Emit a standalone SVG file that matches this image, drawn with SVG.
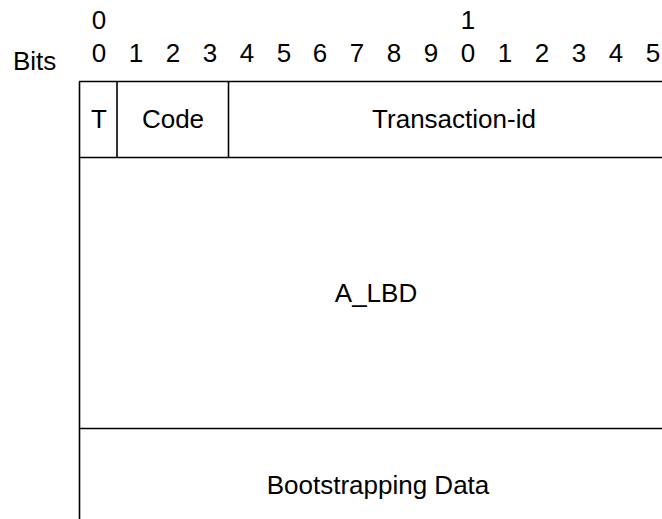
<svg xmlns="http://www.w3.org/2000/svg" width="662" height="519" viewBox="0 0 662 519">
<style>
text{font-family:"Liberation Sans",Arial,sans-serif;font-size:26px;fill:#000}
.c{text-anchor:middle}
.ln{stroke:#000;stroke-width:1.6;fill:none}
</style>
<rect width="662" height="519" fill="#fff"/>
<g id="ruler">
<text x="13" y="70">Bits</text>
<text class="c" x="99" y="29">0</text>
<text class="c" x="468" y="29">1</text>
<g class="c">
<text class="c" x="99" y="62">0</text>
<text class="c" x="136" y="62">1</text>
<text class="c" x="173" y="62">2</text>
<text class="c" x="210" y="62">3</text>
<text class="c" x="247" y="62">4</text>
<text class="c" x="284" y="62">5</text>
<text class="c" x="320" y="62">6</text>
<text class="c" x="357" y="62">7</text>
<text class="c" x="394" y="62">8</text>
<text class="c" x="431" y="62">9</text>
<text class="c" x="468" y="62">0</text>
<text class="c" x="505" y="62">1</text>
<text class="c" x="542" y="62">2</text>
<text class="c" x="579" y="62">3</text>
<text class="c" x="616" y="62">4</text>
<text class="c" x="653" y="62">5</text>
</g>
</g>
<g id="connectors">
<line class="ln" x1="79.5" y1="81.5" x2="79.5" y2="519"/>
<line class="ln" x1="79" y1="81.5" x2="662" y2="81.5"/>
<line class="ln" x1="79" y1="157.5" x2="662" y2="157.5"/>
<line class="ln" x1="117" y1="81.5" x2="117" y2="157.5"/>
<line class="ln" x1="228.5" y1="81.5" x2="228.5" y2="157.5"/>
<line class="ln" x1="79" y1="428.5" x2="662" y2="428.5"/>
</g>
<g id="field-t"><text class="c" x="99" y="128">T</text></g>
<g id="field-code"><text class="c" x="173" y="128">Code</text></g>
<g id="field-transaction-id"><text class="c" x="454" y="128">Transaction-id</text></g>
<g id="field-a-lbd"><text class="c" x="376" y="302">A_LBD</text></g>
<g id="field-bootstrapping-data"><text class="c" x="378" y="494">Bootstrapping Data</text></g>
</svg>
